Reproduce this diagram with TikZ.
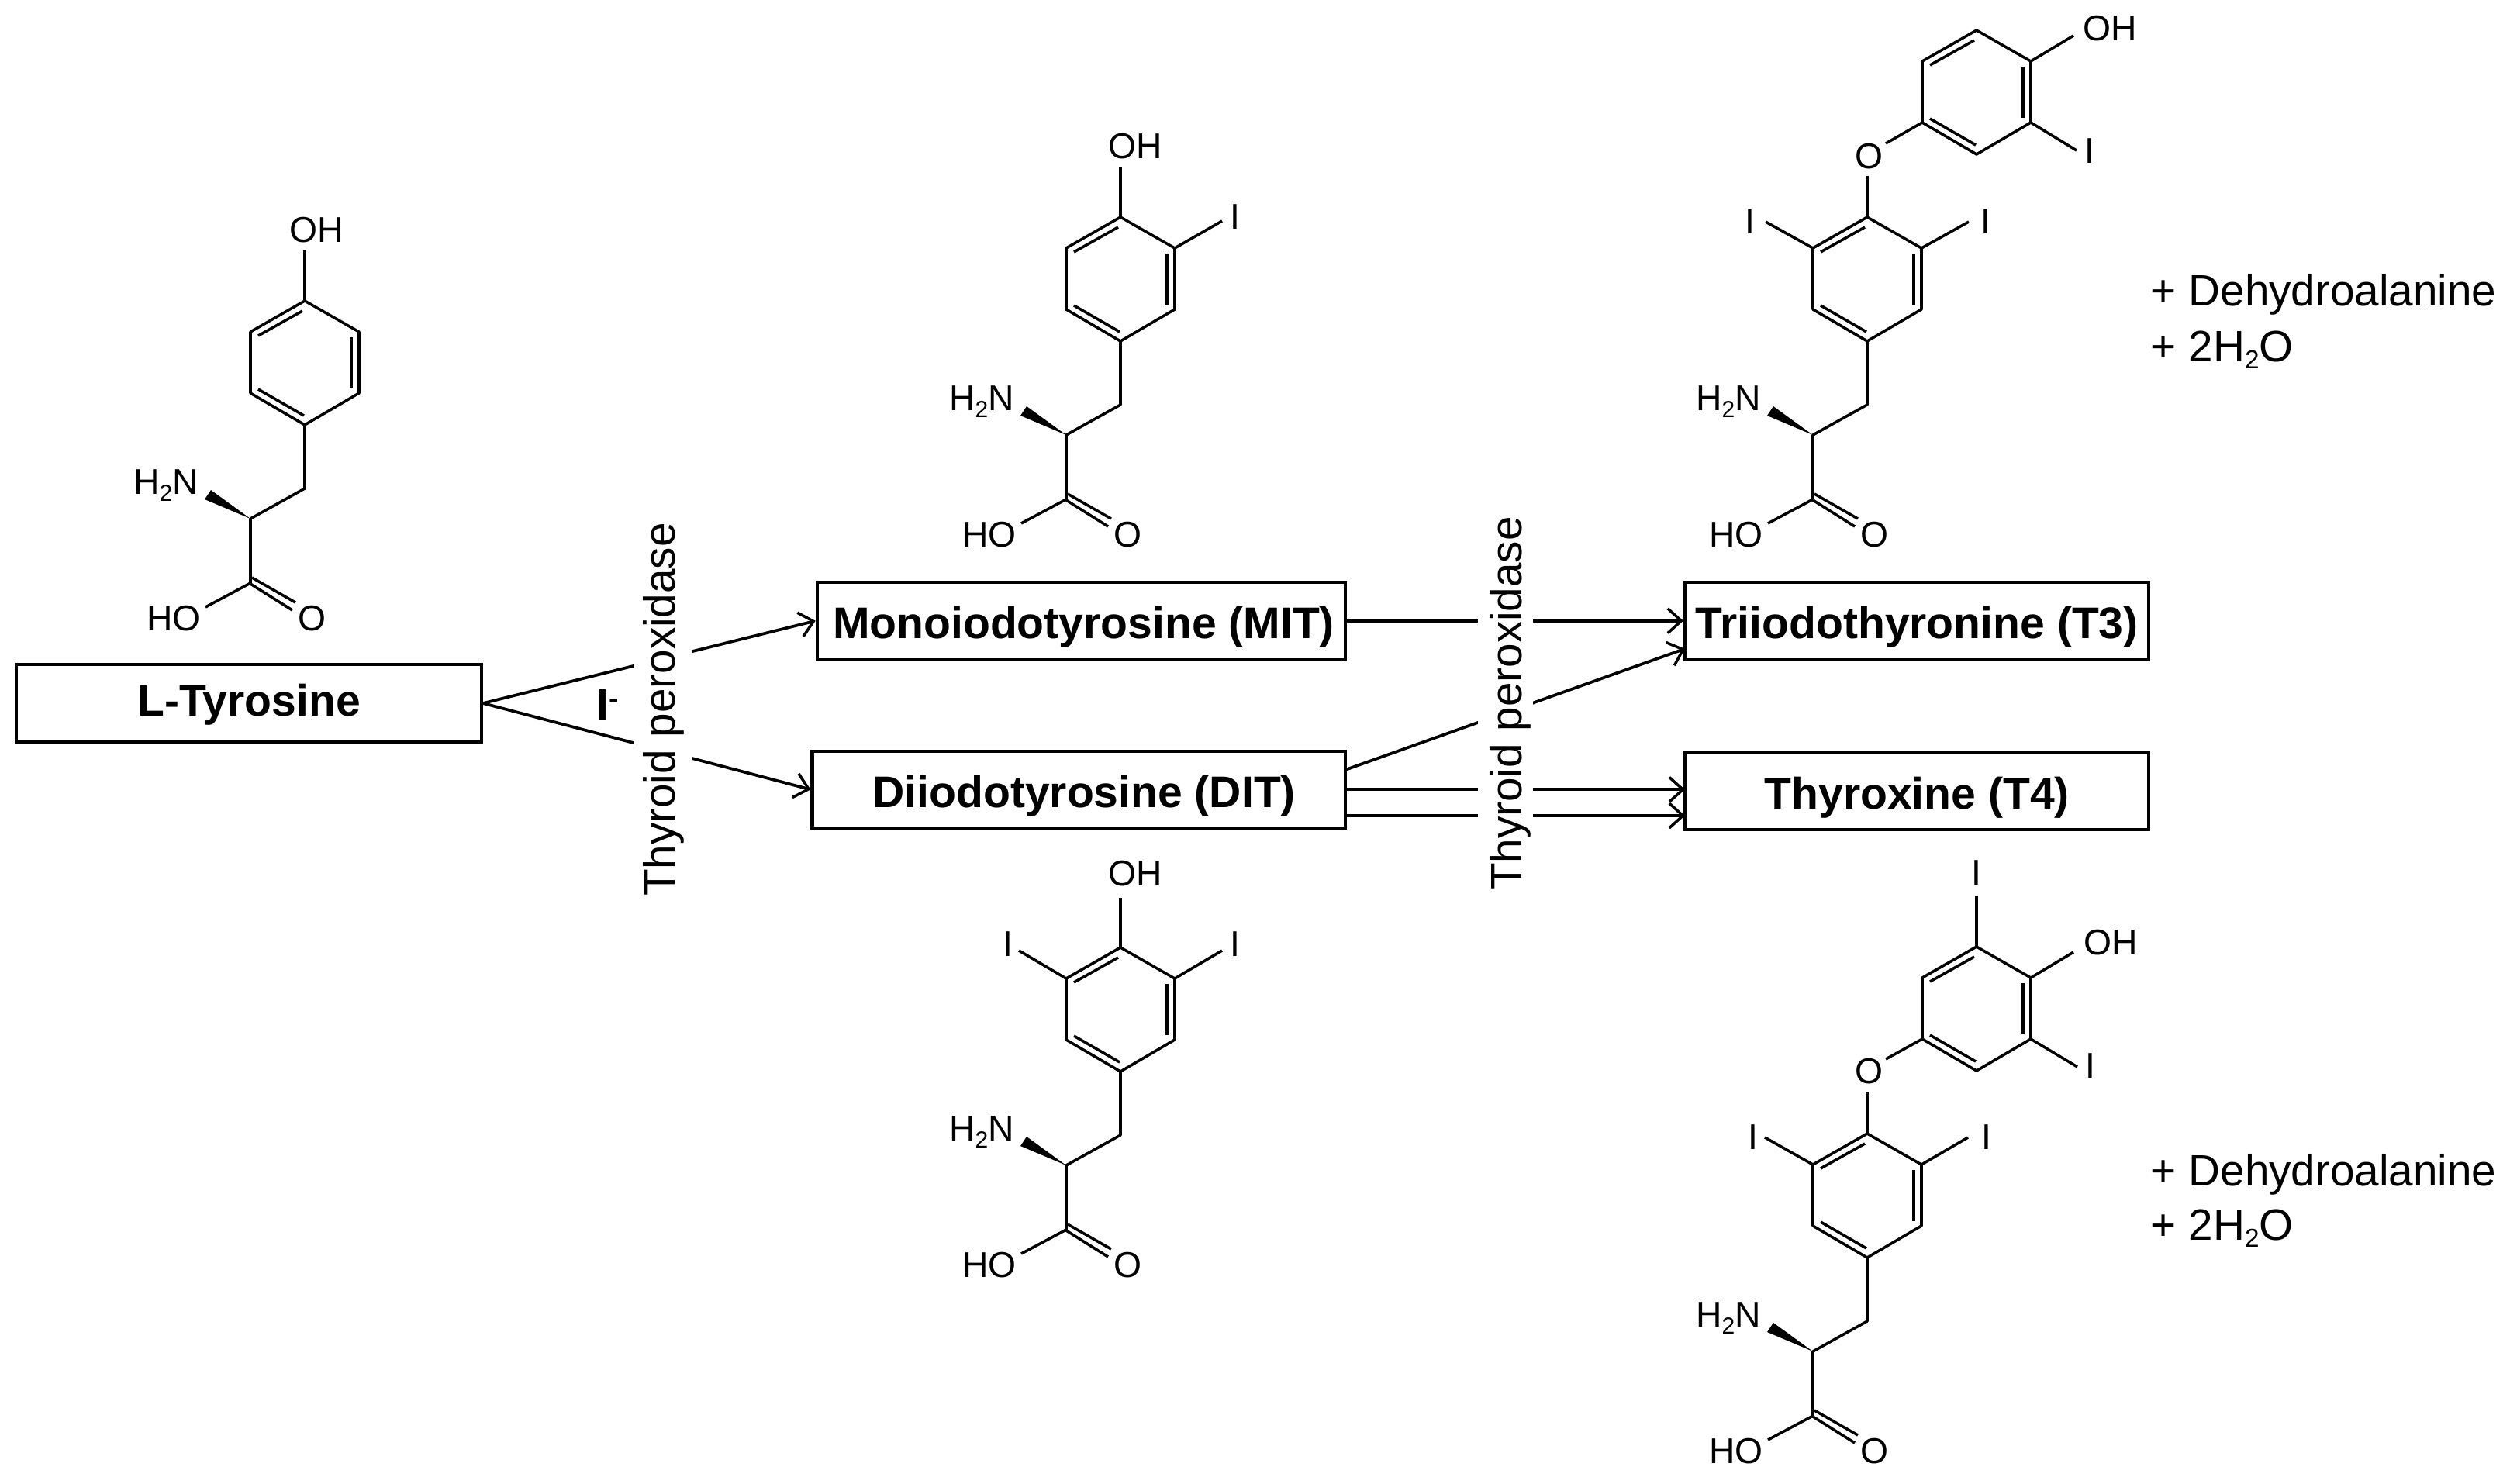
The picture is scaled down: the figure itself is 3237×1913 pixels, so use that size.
\documentclass[tikz,border=0pt]{standalone}
\usepackage{fontspec}
\setmainfont{Liberation Sans}
\usetikzlibrary{arrows.meta,calc}
\newcommand{\subtwo}{\raisebox{-2pt}[0pt][0pt]{\fontsize{7.2}{7.2}\selectfont 2}}
\tikzset{
  bond/.style={line width=0.85pt,line join=round},
  conn/.style={line width=0.9pt,-{Straight Barb[length=4.2pt,width=7.6pt,line width=0.85pt]}},
  atom/.style={inner sep=0pt,font=\fontsize{11.1}{12}\selectfont},
  namebox/.style={draw,line width=1pt,inner sep=0pt,font=\fontsize{13.7}{16}\bfseries\selectfont,text height=11pt,text depth=0pt},
  enzyme/.style={rotate=90,fill=white,inner sep=0pt,anchor=base,font=\fontsize{13.6}{16}\selectfont},
  side/.style={inner sep=0pt,anchor=base west,font=\fontsize{13.6}{16}\selectfont}
}
% aromatic ring: #1 prefix, origin at the bottom vertex
\newcommand{\ringat}[3]{%
  \begin{scope}[shift={(#2,#3)}]
    \coordinate (#1b) at (0,0);
    \coordinate (#1ll) at (-70,-41);
    \coordinate (#1ul) at (-70,-120);
    \coordinate (#1t) at (0,-160);
    \coordinate (#1ur) at (70,-120);
    \coordinate (#1lr) at (70,-41);
    \draw[bond] (#1b)--(#1ll)--(#1ul)--(#1t)--(#1ur)--(#1lr)--cycle;
    \draw[bond] (-60,-115)--(-3,-147);
    \draw[bond] (60,-113)--(60,-47);
    \draw[bond] (-60,-46)--(-1,-12);
  \end{scope}}
% ring + alanine side chain
\newcommand{\aminoacid}[3]{%
  \ringat{#1}{#2}{#3}%
  \begin{scope}[shift={(#2,#3)}]
    \coordinate (#1ch2) at (0,82);
    \coordinate (#1ch) at (-70,121);
    \coordinate (#1c) at (-70,204);
    \coordinate (#1hoend) at (-128,235);
    \coordinate (#1w1) at (-129,96);
    \coordinate (#1w2) at (-121,84);
    \draw[bond] (#1b)--(#1ch2)--(#1ch)--(#1c);
    \draw[bond] (#1c)--(#1hoend);
    \draw[bond] (-70,205)--(-16,239);
    \draw[bond] (-68,197)--(-12,229);
    \fill (#1ch)--(#1w1)--(#1w2)--cycle;
    \node[atom] (#1nh) at (-179,74) {H\subtwo N};
    \node[atom] (#1ho) at (-169,250) {HO};
    \node[atom] (#1oo) at (9,250) {O};
  \end{scope}}
\begin{document}
\begin{tikzpicture}[x=0.24pt,y=-0.24pt]
\useasboundingbox (0,0) rectangle (3237,1913);
% boxes
\node[namebox,minimum width=144pt,minimum height=24pt,text height=8pt] (tyr) at (321,907) {L-Tyrosine};
\node[namebox,minimum width=163.4pt,minimum height=24pt] (mit) at (1394.2,800.7) {\hspace*{1.6pt}Monoiodotyrosine (MIT)};
\node[namebox,minimum width=164.9pt,minimum height=23.7pt] (dit) at (1391.1,1018.3) {\hspace*{3.4pt}Diiodotyrosine (DIT)};
\node[namebox,minimum width=143.6pt,minimum height=24pt] (tthree) at (2472.2,800.7) {Triiodothyronine (T3)};
\node[namebox,minimum width=143.6pt,minimum height=23.7pt] (tfour) at (2472.2,1020.5) {Thyroxine (T4)};
% connectors
\coordinate (ditup) at (1734.7,993);
\coordinate (tthreelow) at (2173,836.7);
\coordinate (ditlow) at (1734.7,1052);
\coordinate (tfourlow) at (2173,1052);
\coordinate (tfourup) at (2173,1018.3);
\draw[conn] (tyr.east) -- (mit.west);
\draw[conn] (tyr.east) -- (dit.west);
\draw[conn] (mit.east) -- (tthree.west);
\draw[conn] (ditup) -- (tthreelow);
\draw[conn] (dit.east) -- (tfourup);
\draw[conn] (ditlow) -- (tfourlow);
% labels on the connectors
\node[enzyme,text height=12.48pt,text depth=5.28pt] (tpoa) at (870,915) {Thyroid peroxidase};
\node[enzyme,text height=13.44pt,text depth=3.6pt] (tpob) at (1962,907) {Thyroid peroxidase};
\node[inner sep=0pt,anchor=base west,font=\fontsize{13.6}{16}\bfseries\selectfont] (iodide) at (769,928) {I\raisebox{3.6pt}[0pt][0pt]{\fontsize{9}{9}\bfseries\selectfont -}};
% L-tyrosine
\aminoacid{a}{393}{548}
\node[atom] (aoh) at (408,297) {OH};
\coordinate (aohend) at (393,323);
\draw[bond] (at)--(aohend);
% MIT
\aminoacid{m}{1445}{440}
\node[atom] (moh) at (1464,189) {OH};
\coordinate (mohend) at (1445,216);
\draw[bond] (mt)--(mohend);
\node[atom] (mi) at (1593,280) {I};
\coordinate (miend) at (1576,285);
\draw[bond] (mur)--(miend);
% DIT
\aminoacid{d}{1445}{1382}
\node[atom] (doh) at (1464,1127) {OH};
\coordinate (dohend) at (1445,1158);
\draw[bond] (dt)--(dohend);
\node[atom] (dir) at (1593,1218) {I};
\coordinate (dirend) at (1576,1226);
\draw[bond] (dur)--(dirend);
\node[atom] (dil) at (1300,1218) {I};
\coordinate (dilend) at (1314,1226);
\draw[bond] (dul)--(dilend);
% T3
\aminoacid{t}{2408}{440}
\ringat{u}{2549}{199}
\node[atom] (to) at (2410.5,202) {O};
\coordinate (toa) at (2408,227);
\coordinate (tob) at (2432,185);
\draw[bond] (tt)--(toa);
\draw[bond] (tob)--(ull);
\node[atom] (til) at (2257,286) {I};
\coordinate (tilend) at (2277,286);
\draw[bond] (tul)--(tilend);
\node[atom] (tir) at (2560.5,286) {I};
\coordinate (tirend) at (2539,286);
\draw[bond] (tur)--(tirend);
\node[atom] (uoh) at (2721,37) {OH};
\coordinate (uohend) at (2674,46);
\draw[bond] (uur)--(uohend);
\node[atom] (ui) at (2694.5,195) {I};
\coordinate (uiend) at (2678,194);
\draw[bond] (ulr)--(uiend);
% T4
\aminoacid{f}{2408}{1622}
\ringat{g}{2549}{1381}
\node[atom] (fo) at (2410,1382) {O};
\coordinate (foa) at (2408,1409);
\coordinate (fob) at (2432,1366);
\draw[bond] (ft)--(foa);
\draw[bond] (fob)--(gll);
\node[atom] (fil) at (2260.6,1467) {I};
\coordinate (filend) at (2276,1467);
\draw[bond] (ful)--(filend);
\node[atom] (fir) at (2562,1467) {I};
\coordinate (firend) at (2538,1467);
\draw[bond] (fur)--(firend);
\node[atom] (goh) at (2722,1216) {OH};
\coordinate (gohend) at (2674,1228);
\draw[bond] (gur)--(gohend);
\node[atom] (git) at (2549,1126) {I};
\coordinate (gitend) at (2549,1156);
\draw[bond] (gt)--(gitend);
\node[atom] (gir) at (2696,1375) {I};
\coordinate (girend) at (2679,1376);
\draw[bond] (glr)--(girend);
% products
\node[side] (pa) at (2773,394) {+ Dehydroalanine};
\node[side] (pb) at (2773,466) {+ 2H\raisebox{-2.2pt}[0pt][0pt]{\fontsize{8}{8}\selectfont 2}O};
\node[side] (pc) at (2773,1529) {+ Dehydroalanine};
\node[side] (pd) at (2773,1599) {+ 2H\raisebox{-2.2pt}[0pt][0pt]{\fontsize{8}{8}\selectfont 2}O};
\end{tikzpicture}
\end{document}
